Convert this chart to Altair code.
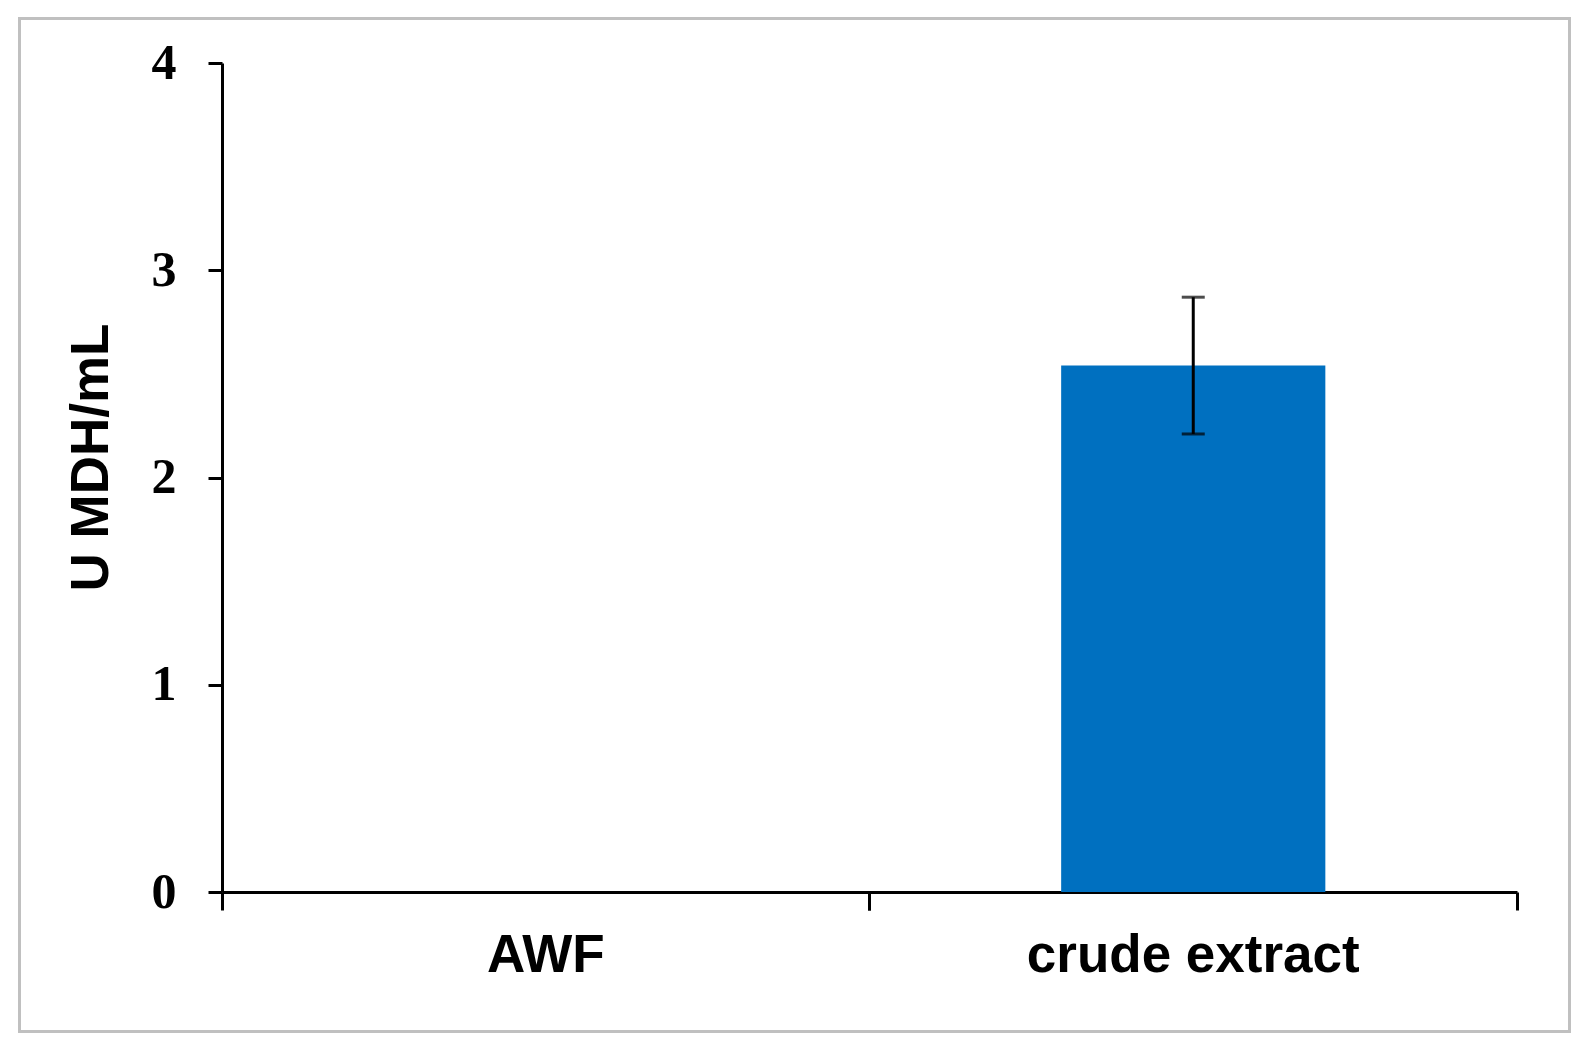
import altair as alt
import pandas as pd

categories = ["AWF", "crude extract"]
means = [0.0, 2.54]
errors = [None, 0.33]
y_ticks = [0, 1, 2, 3, 4]

rows = []
for c, m, e in zip(categories, means, errors):
    rows.append({"cat": c, "val": m,
                 "low": (m - e) if e is not None else None,
                 "high": (m + e) if e is not None else None})
df = pd.DataFrame(rows)
err_df = df.dropna()

W, H = 1295, 829
x_scale = alt.Scale(domain=categories, paddingInner=0, paddingOuter=0)
y_scale = alt.Scale(domain=[0, 4], nice=False)
y_axis = alt.Axis(title="U MDH/mL", values=y_ticks, tickSize=14, labelPadding=32,
                  labelFont="Liberation Serif", labelFontWeight="bold", labelFontSize=50,
                  labelColor="black", titleFont="Liberation Sans", titleFontWeight="bold",
                  titleFontSize=53, titleColor="black", titleX=-115, titleY=394,
                  titleBaseline="alphabetic", titleAngle=270, format="d")

border = alt.Chart(pd.DataFrame({"a": [0]})).mark_rect(
    fill=None, stroke="#c0c0c0", strokeWidth=3
).encode(x=alt.value(-202.5), x2=alt.value(1347.5), y=alt.value(-44.5), y2=alt.value(968.5))

bars = alt.Chart(df).mark_bar(color="#0070C0", width=alt.RelativeBandSize(0.408)).encode(
    x=alt.X("cat:N", scale=x_scale, sort=categories,
            axis=alt.Axis(title=None, orient="bottom", ticks=False, tickSize=0, labelAngle=0,
                          labelFont="Liberation Sans", labelFontWeight="bold", labelFontSize=53,
                          labelColor="black", labelBaseline="alphabetic", labelPadding=79,
                          labelLimit=0, domain=True)),
    y=alt.Y("val:Q", scale=y_scale, axis=y_axis),
)

rule = alt.Chart(err_df).mark_rule(color="black", strokeWidth=3).encode(
    x=alt.X("cat:N", scale=x_scale, sort=categories,
            axis=alt.Axis(title=None, orient="bottom", labels=False, domain=False,
                          ticks=True, tickSize=18, bandPosition=0)),
    y=alt.Y("low:Q", scale=y_scale, axis=y_axis),
    y2="high:Q",
)

cap_hi = alt.Chart(err_df).mark_tick(color="black", size=23, thickness=3).encode(
    x=alt.X("cat:N", scale=x_scale, sort=categories,
            axis=alt.Axis(title=None, orient="bottom", labels=False, domain=False,
                          ticks=True, tickSize=18, bandPosition=1)),
    y=alt.Y("high:Q", scale=y_scale, axis=y_axis),
)

cap_lo = alt.Chart(err_df).mark_tick(color="black", size=23, thickness=3).encode(
    x=alt.X("cat:N", scale=x_scale, sort=categories, axis=None),
    y=alt.Y("low:Q", scale=y_scale, axis=y_axis),
)

chart = alt.layer(border, bars, rule, cap_hi, cap_lo).resolve_axis(x="independent").properties(
    width=W, height=H,
    padding={"left": 214, "top": 55, "right": 62, "bottom": 150},
    autosize=alt.AutoSizeParams(type="none"),
    background="white",
).configure_view(stroke=None).configure_axis(
    domainColor="black", domainWidth=3, tickColor="black", tickWidth=3, grid=False
)

chart.save("out.html", embed_options={"renderer": "svg", "actions": False})
